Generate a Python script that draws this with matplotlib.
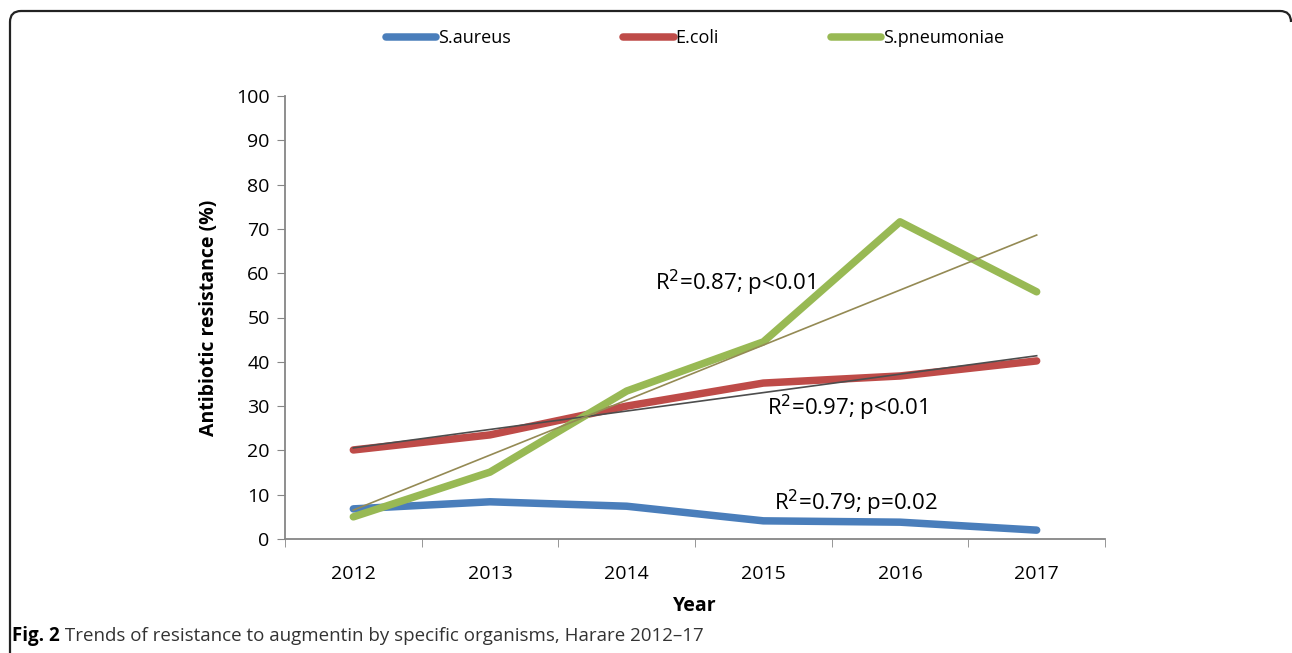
"""
Trends of resistance to augmentin by organism, Harare 2012-17.
Excel-style line chart with linear trendlines and a figure caption.
"""

import numpy as np
import matplotlib
matplotlib.use("Agg")
import matplotlib.pyplot as plt
from matplotlib.path import Path
from matplotlib.patches import PathPatch

# ---------------------------------------------------------------------------
# Data
# ---------------------------------------------------------------------------
years = ["2012", "2013", "2014", "2015", "2016", "2017"]
s_aureus = [6.8, 8.4, 7.4, 4.1, 3.8, 2.0]
e_coli = [20.1, 23.5, 30.0, 35.2, 36.8, 40.2]
s_pneumoniae = [5.0, 15.1, 33.4, 44.5, 71.6, 55.8]

series_names = ["S.aureus", "E.coli", "S.pneumoniae"]
r2_labels = ["R$^2$=0.79; p=0.02", "R$^2$=0.97; p<0.01", "R$^2$=0.87; p<0.01"]

# ---------------------------------------------------------------------------
# Style
# ---------------------------------------------------------------------------
plt.rcParams["font.family"] = ["Open Sans", "DejaVu Sans"]
colors = ["#4A7EBB", "#BE4B48", "#98B954"]
trend_colors = {"E.coli": "#4D4D4D", "S.pneumoniae": "#948A54"}
axis_grey = "#868686"

W, H = 1292, 653
fig = plt.figure(figsize=(W / 100, H / 100), dpi=100)
ax = fig.add_axes([285 / W, 1 - 539 / H, 820 / W, 443 / H])

x = np.arange(len(years))
values = [s_aureus, e_coli, s_pneumoniae]
lines = []
for name, vals, c in zip(series_names, values, colors):
    ln, = ax.plot(x, vals, color=c, lw=5.4, solid_capstyle="round",
                  solid_joinstyle="round", label=name, zorder=2)
    lines.append(ln)

# Linear trendlines
for name, vals in zip(series_names, values):
    if name not in trend_colors:
        continue
    k, b = np.polyfit(x, vals, 1)
    ax.plot(x, k * x + b, color=trend_colors[name], lw=1.2, zorder=3)

# R² annotations
ax.text(3.08, 8.1, r2_labels[0], fontsize=16, va="center", ha="left")
ax.text(3.03, 29.6, r2_labels[1], fontsize=16, va="center", ha="left")
ax.text(2.21, 57.8, r2_labels[2], fontsize=16, va="center", ha="left")

# Axes
ax.set_xlim(-0.5, len(years) - 0.5)
ax.set_ylim(0, 100)
ax.set_yticks(np.arange(0, 101, 10))
ax.set_xticks(x)
ax.set_xticklabels(years)
ax.set_xticks(np.arange(-0.5, len(years), 1), minor=True)
ax.tick_params(axis="x", which="major", length=0, pad=19, labelsize=14)
ax.tick_params(axis="x", which="minor", length=6, color=axis_grey)
ax.tick_params(axis="y", length=6, color=axis_grey, labelsize=14, pad=5)
for side in ("top", "right"):
    ax.spines[side].set_visible(False)
for side in ("left", "bottom"):
    ax.spines[side].set_color(axis_grey)
    ax.spines[side].set_linewidth(1.3)

ax.set_ylabel("Antibiotic resistance (%)", fontsize=14, fontweight="bold",
              labelpad=12)
ax.set_xlabel("Year", fontsize=14, fontweight="bold", labelpad=9)

# Legend along the top
fig.legend(handles=lines, loc="center", bbox_to_anchor=(695 / W, 1 - 38 / H),
           ncol=3, frameon=False, fontsize=13, handlelength=2.8,
           handletextpad=0.1, columnspacing=6.2)

# Rounded frame (top and left edges only, as in the source)
px = lambda u, v: (u / W, 1 - v / H)
verts = [px(10, 653), px(10, 22), px(10, 11), px(21, 11),
         px(1280, 11), px(1291, 11), px(1291, 22)]
codes = [Path.MOVETO, Path.LINETO, Path.CURVE3, Path.CURVE3,
         Path.LINETO, Path.CURVE3, Path.CURVE3]
fig.patches.append(PathPatch(Path(verts, codes), transform=fig.transFigure,
                             fill=False, edgecolor="#222222", lw=1.6))

# Caption
cap = fig.text(12 / W, 1 - 636 / H, "Fig. 2", fontsize=13.5, fontweight="bold",
               va="center", ha="left")
ax.annotate(" Trends of resistance to augmentin by specific organisms, "
            "Harare 2012\u201317", xy=(1, 0.5), xycoords=cap, fontsize=13.5,
            va="center", ha="left", color="#333333", annotation_clip=False)

fig.savefig("out.png", dpi=100)
